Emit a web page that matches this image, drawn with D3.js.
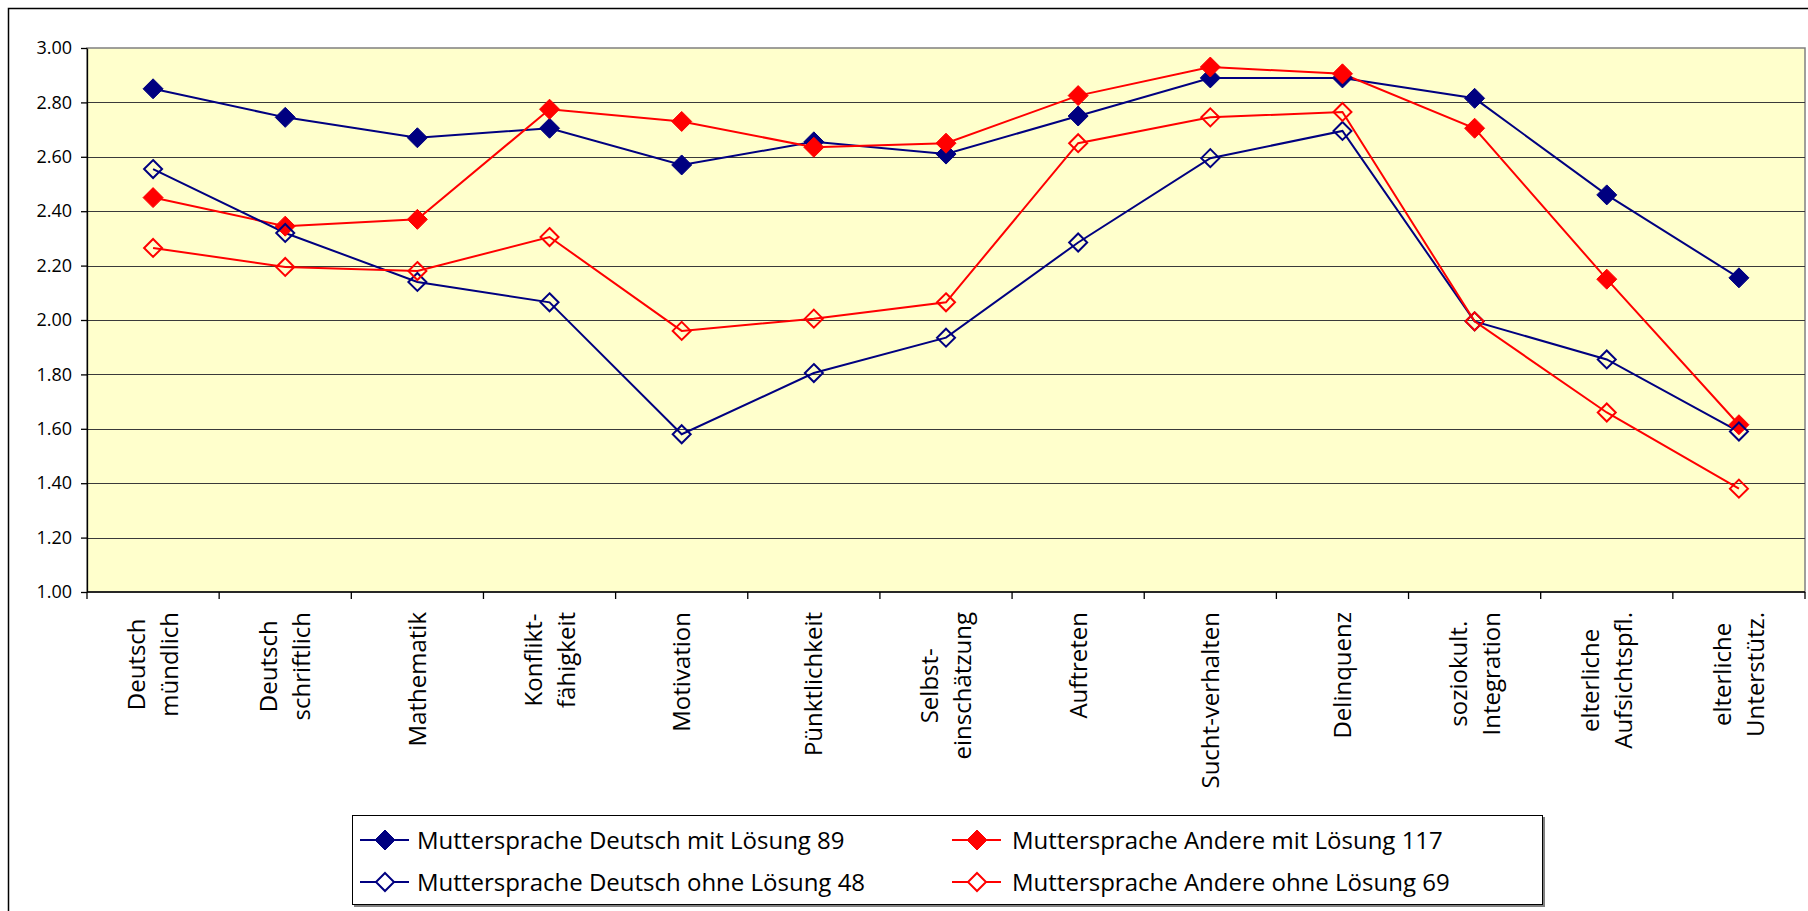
<!DOCTYPE html>
<html>
<head>
<meta charset="utf-8">
<script src="https://cdn.jsdelivr.net/npm/d3@7"></script>
<style>
  body { margin: 0; background: #fff; }
  text { font-family: "Open Sans", "Noto Sans", sans-serif; fill: #000; }
</style>
</head>
<body>
<div id="chart"></div>
<script>
// data
var categories = ["Deutsch\nmündlich", "Deutsch\nschriftlich", "Mathematik", "Konflikt-\nfähigkeit",
  "Motivation", "Pünktlichkeit", "Selbst-\neinschätzung", "Auftreten", "Sucht-verhalten",
  "Delinquenz", "soziokult.\nIntegration", "elterliche\nAufsichtspfl.", "elterliche\nUnterstütz."];

var deutschMit = [2.85, 2.745, 2.67, 2.705, 2.57, 2.655, 2.61, 2.75, 2.89, 2.89, 2.815, 2.46, 2.155];
var andereMit = [2.45, 2.345, 2.37, 2.775, 2.73, 2.635, 2.65, 2.825, 2.93, 2.905, 2.705, 2.15, 1.615];
var deutschOhne = [2.555, 2.32, 2.14, 2.065, 1.58, 1.805, 1.935, 2.285, 2.595, 2.695, 1.995, 1.855, 1.59];
var andereOhne = [2.265, 2.195, 2.18, 2.305, 1.96, 2.005, 2.065, 2.65, 2.745, 2.765, 1.995, 1.66, 1.38];

var seriesNames = ["Muttersprache Deutsch mit Lösung 89", "Muttersprache Andere mit Lösung 117",
  "Muttersprache Deutsch ohne Lösung 48", "Muttersprache Andere ohne Lösung 69"];

var yTicks = [1.00, 1.20, 1.40, 1.60, 1.80, 2.00, 2.20, 2.40, 2.60, 2.80, 3.00];

var series = [
  { name: seriesNames[0], values: deutschMit, color: "#000080", filled: true },
  { name: seriesNames[1], values: andereMit, color: "#ff0000", filled: true },
  { name: seriesNames[2], values: deutschOhne, color: "#000080", filled: false },
  { name: seriesNames[3], values: andereOhne, color: "#ff0000", filled: false }
];

// svg container
var svgWidth = 1808;
var svgHeight = 911;

var plot = { left: 87, top: 48, right: 1805, bottom: 592 };

var svg = d3.select("#chart").append("svg")
  .attr("width", svgWidth)
  .attr("height", svgHeight);

// outer chart border (runs off the picture on the right and bottom)
svg.append("rect")
  .attr("x", 8.5).attr("y", 8.5)
  .attr("width", svgWidth).attr("height", svgHeight)
  .attr("fill", "#fff")
  .attr("stroke", "#000")
  .attr("stroke-width", 1.5);

// scales
var xScale = d3.scaleBand()
  .domain(categories)
  .range([plot.left, plot.right]);

var yScale = d3.scaleLinear()
  .domain([1, 3])
  .range([plot.bottom, plot.top]);

var cx = d => xScale(d) + xScale.bandwidth() / 2;

// plot background
svg.append("rect")
  .attr("x", plot.left).attr("y", plot.top)
  .attr("width", plot.right - plot.left).attr("height", plot.bottom - plot.top)
  .attr("fill", "#ffffcc")
  .attr("stroke", "#808080")
  .attr("stroke-width", 1.5);

// gridlines
svg.append("g")
  .selectAll("line")
  .data(yTicks.slice(1, -1))
  .enter()
  .append("line")
  .attr("x1", plot.left).attr("x2", plot.right)
  .attr("y1", d => Math.round(yScale(d)) + 0.5)
  .attr("y2", d => Math.round(yScale(d)) + 0.5)
  .attr("stroke", "#3a3a3a")
  .attr("stroke-width", 1);

// y axis
var yAxis = d3.axisLeft(yScale)
  .tickValues(yTicks)
  .tickFormat(d3.format(".2f"))
  .tickSizeInner(6)
  .tickSizeOuter(0)
  .tickPadding(9);

var yAxisG = svg.append("g")
  .attr("transform", `translate(${plot.left}, 0)`)
  .call(yAxis);
yAxisG.selectAll("text")
  .style("font-size", "18px")
  .style("font-family", "'Open Sans', sans-serif");
yAxisG.selectAll("path, line").attr("stroke", "#000").attr("stroke-width", 1.3);

// x axis line with ticks at the category boundaries
svg.append("line")
  .attr("x1", plot.left).attr("x2", plot.right)
  .attr("y1", plot.bottom).attr("y2", plot.bottom)
  .attr("stroke", "#000").attr("stroke-width", 1.5);

svg.append("g")
  .selectAll("line")
  .data(categories.concat([null]))
  .enter()
  .append("line")
  .attr("x1", (d, i) => plot.left + i * xScale.bandwidth())
  .attr("x2", (d, i) => plot.left + i * xScale.bandwidth())
  .attr("y1", plot.bottom)
  .attr("y2", plot.bottom + 7)
  .attr("stroke", "#000")
  .attr("stroke-width", 1.3);

// x labels, rotated, lines centred on each other
var labelTop = 612;
var lineGap = 33;
categories.forEach(function(cat) {
  var lines = cat.split("\n");
  var g = svg.append("g");
  var texts = lines.map(function(line, i) {
    var off = (i - (lines.length - 1) / 2) * lineGap;
    return g.append("text")
      .attr("text-anchor", "middle")
      .style("font-size", "24px")
      .attr("data-x", cx(cat) + off + 8.5)
      .text(line);
  });
  var maxLen = d3.max(texts, t => t.node().getComputedTextLength());
  texts.forEach(function(t) {
    t.attr("transform", `translate(${t.attr("data-x")}, ${labelTop + maxLen / 2}) rotate(-90)`);
  });
});

// lines and markers
var diamond = function(r) {
  return `M0,${-r}L${r},0L0,${r}L${-r},0Z`;
};

var lineGen = d3.line()
  .x((d, i) => cx(categories[i]))
  .y(d => yScale(d));

series.forEach(function(s) {
  svg.append("path")
    .datum(s.values)
    .attr("d", lineGen)
    .attr("fill", "none")
    .attr("stroke", s.color)
    .attr("stroke-width", 2);
});

series.forEach(function(s) {
  svg.append("g")
    .selectAll("path")
    .data(s.values)
    .enter()
    .append("path")
    .attr("transform", (d, i) => `translate(${cx(categories[i])}, ${yScale(d)})`)
    .attr("d", s.filled ? diamond(10) : diamond(9))
    .attr("fill", s.filled ? s.color : "none")
    .attr("stroke", s.color)
    .attr("stroke-width", s.filled ? 1 : 2);
});

// legend
var legend = svg.append("g");
legend.append("rect")
  .attr("x", 354).attr("y", 817)
  .attr("width", 1191).attr("height", 90)
  .attr("fill", "#808080");
legend.append("rect")
  .attr("x", 352.5).attr("y", 815.5)
  .attr("width", 1190).attr("height", 89)
  .attr("fill", "#fff")
  .attr("stroke", "#000")
  .attr("stroke-width", 1);

// [line start, text start, row y]
var legendPos = [[360, 417, 840], [952, 1012, 840], [360, 417, 882], [952, 1012, 882]];
series.forEach(function(s, i) {
  var lx = legendPos[i][0];
  var tx = legendPos[i][1];
  var ly = legendPos[i][2];
  legend.append("line")
    .attr("x1", lx).attr("x2", lx + 49)
    .attr("y1", ly).attr("y2", ly)
    .attr("stroke", s.color).attr("stroke-width", 2);
  legend.append("path")
    .attr("transform", `translate(${lx + 25}, ${ly})`)
    .attr("d", s.filled ? diamond(10) : diamond(9))
    .attr("fill", s.filled ? s.color : "#fff")
    .attr("stroke", s.color)
    .attr("stroke-width", s.filled ? 1 : 2);
  legend.append("text")
    .attr("x", tx)
    .attr("y", ly + 9)
    .style("font-size", "24px")
    .text(s.name);
});
</script>
</body>
</html>
